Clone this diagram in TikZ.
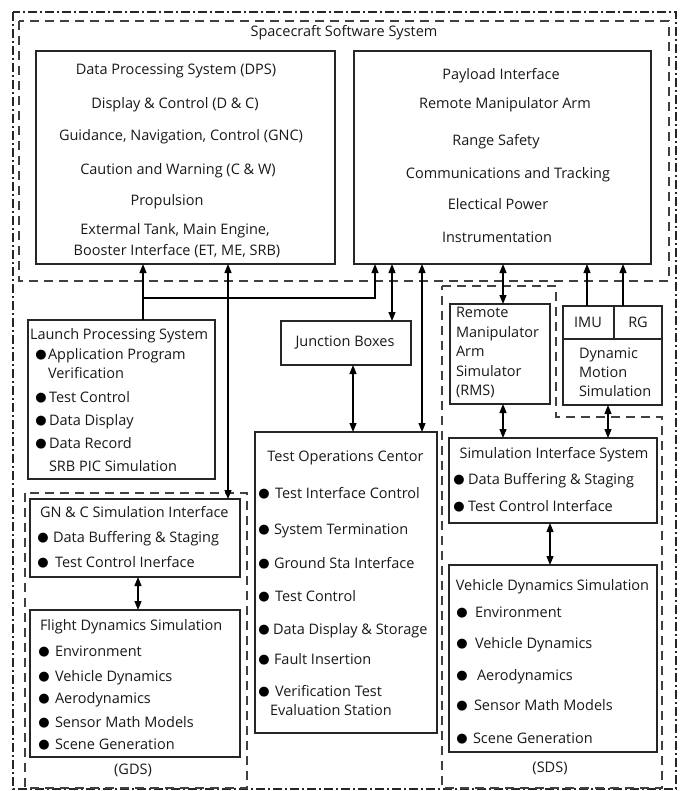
\documentclass[tikz,border=0pt]{standalone}
\usepackage{fontspec}
\setmainfont{Open Sans}
\newfontfamily\symf{DejaVu Sans}
\usetikzlibrary{arrows.meta}
\begin{document}
\begin{tikzpicture}[x=1pt,y=-1pt,
  every node/.style={inner sep=0pt, outer sep=0pt},
  box/.style={draw=black!85, line width=1.3pt, rectangle},
  txt/.style={font=\fontsize{14.5}{16}\selectfont, text=black!90, text height=11pt, text depth=3pt},
  lt/.style={txt, anchor=west},
  bul/.style={font=\symf\fontsize{13}{14}\selectfont, text=black},
  dsh/.style={draw=black!75, line width=1.2pt, dash pattern=on 9pt off 6pt},
  dshdot/.style={draw=black!85, line width=1.3pt, dash pattern=on 9pt off 3pt on 2pt off 3pt},
  arr/.style={draw=black, line width=1.2pt, -{Triangle[length=9pt,width=7pt]}},
  darr/.style={draw=black, line width=1.2pt, {Triangle[length=9pt,width=7pt]}-{Triangle[length=9pt,width=7pt]}},
]
\useasboundingbox (0,0) rectangle (682,791);
\fill[white] (0,0) rectangle (682,791);

% frames
\draw[dshdot] (13,12) rectangle (676,789);
\draw[dsh] (19,21) rectangle (669,281);
\draw[dsh] (25,493) rectangle (247,788);
\draw[dsh] (442,286) -- (556,286) -- (556,417) -- (662,417) -- (662,788) -- (442,788) -- cycle;

\node[txt] (sss) at (344,33) {Spacecraft Software System};

% boxes
\node[box, minimum width=299pt, minimum height=213pt] (dps) at (185.5,157.5) {};
\node[box, minimum width=297pt, minimum height=213pt] (pay) at (502.5,157.5) {};
\node[box, minimum width=187pt, minimum height=159pt] (lps) at (121.5,399.5) {};
\node[box, minimum width=130pt, minimum height=44pt] (jb) at (346,343) {};
\node[box, minimum width=182pt, minimum height=301pt] (toc) at (346,582.5) {};
\node[box, minimum width=210pt, minimum height=78pt] (gnc) at (135,538) {};
\node[box, minimum width=210pt, minimum height=147pt] (fds) at (135,683.5) {};
\node[box, minimum width=100pt, minimum height=100pt] (rms) at (500,354) {};
\node[box, minimum width=99pt, minimum height=99pt] (dms) at (612.5,355.5) {};
\node[box, minimum width=208pt, minimum height=85pt] (sis) at (553,480.5) {};
\node[box, minimum width=208pt, minimum height=187pt] (vds) at (553,658.5) {};

% DMS dividers
\coordinate (ydiv) at (0,339);
\coordinate (xdiv) at (614,0);
\draw[black!85, line width=1.3pt] (dms.west |- ydiv) -- (dms.east |- ydiv);
\draw[black!85, line width=1.3pt] (dms.north -| xdiv) -- (xdiv |- ydiv);

% DPS texts
\node[txt] (d1) at (176,71) {Data Processing System (DPS)};
\node[txt] (d2) at (175,105) {Display \& Control (D \& C)};
\node[txt] (d3) at (181,137) {Guidance, Navigation, Control (GNC)};
\node[txt] (d4) at (178,171) {Caution and Warning (C \& W)};
\node[txt] (d5) at (167,202) {Propulsion};
\node[txt] (d6) at (175,231) {Extermal Tank, Main Engine,};
\node[txt] (d7) at (177,252) {Booster Interface (ET, ME, SRB)};

% Payload texts
\node[txt] (p1) at (501,76) {Payload Interface};
\node[txt] (p2) at (505,105) {Remote Manipulator Arm};
\node[txt] (p3) at (496,142) {Range Safety};
\node[txt] (p4) at (508,175) {Communications and Tracking};
\node[txt] (p5) at (498,206) {Electical Power};
\node[txt] (p6) at (497,239) {Instrumentation};

% LPS texts
\node[lt] (l0) at (30,335) {Launch Processing System};
\node[lt] (l1) at (48,355) {Application Program};
\node[lt] (l2) at (48,374) {Verification};
\node[lt] (l3) at (49,398) {Test Control};
\node[lt] (l4) at (49,421) {Data Display};
\node[lt] (l5) at (49,444) {Data Record};
\node[lt] (l6) at (49,467) {SRB PIC Simulation};
\foreach \n/\y in {lb1/355, lb3/398, lb4/421, lb5/444} \node[bul] (\n) at (41,\y) {●};

% Junction boxes
\node[txt] (jbt) at (345,342) {Junction Boxes};

% TOC texts
\node[txt] (t0) at (345.5,457) {Test Operations Centor};
\node[lt] (t1) at (275,494) {Test Interface Control};
\node[lt] (t2) at (274,530) {System Termination};
\node[lt] (t3) at (274,564) {Ground Sta Interface};
\node[lt] (t4) at (275,597) {Test Control};
\node[lt] (t5) at (273,630) {Data Display \& Storage};
\node[lt] (t6) at (274,660) {Fault Insertion};
\node[lt] (t7) at (275,692) {Verification Test};
\node[lt] (t8) at (270,711) {Evaluation Station};
\foreach \n/\y in {tb1/494, tb2/530, tb3/564, tb4/597, tb5/630, tb6/660, tb7/692} \node[bul] (\n) at (264,\y) {●};

% GN&C texts
\node[lt] (g0) at (40,513) {GN \& C Simulation Interface};
\node[lt] (g1) at (53,538) {Data Buffering \& Staging};
\node[lt] (g2) at (55,563) {Test Control Inerface};
\foreach \n/\y in {gb1/538, gb2/563} \node[bul] (\n) at (43,\y) {●};

% FDS texts
\node[lt] (f0) at (40,626) {Flight Dynamics Simulation};
\node[lt] (f1) at (55,652) {Environment};
\node[lt] (f2) at (55,677) {Vehicle Dynamics};
\node[lt] (f3) at (55,699) {Aerodynamics};
\node[lt] (f4) at (55,723) {Sensor Math Models};
\node[lt] (f5) at (55,745) {Scene Generation};
\foreach \n/\y in {fb1/652, fb2/677, fb3/699, fb4/723, fb5/745} \node[bul] (\n) at (44,\y) {●};
\node[txt] (gds) at (133,770) {(GDS)};

% RMS texts
\node[lt] (r1) at (456,313) {Remote};
\node[lt] (r2) at (456,333) {Manipulator};
\node[lt] (r3) at (456,352) {Arm};
\node[lt] (r4) at (456,372) {Simulator};
\node[lt] (r5) at (456,391) {(RMS)};

% DMS texts
\node[txt] (imu) at (588,323) {IMU};
\node[txt] (rg) at (638,323) {RG};
\node[lt] (m1) at (579,354) {Dynamic};
\node[lt] (m2) at (579,373) {Motion};
\node[lt] (m3) at (579,392) {Simulation};

% SIS texts
\node[txt] (s0) at (554,454) {Simulation Interface System};
\node[lt] (s1) at (468,480) {Data Buffering \& Staging};
\node[lt] (s2) at (468,507) {Test Control Interface};
\foreach \n/\y in {sb1/480, sb2/507} \node[bul] (\n) at (459,\y) {●};

% VDS texts
\node[txt] (v0) at (552.5,586) {Vehicle Dynamics Simulation};
\node[lt] (v1) at (475,613) {Environment};
\node[lt] (v2) at (475,644) {Vehicle Dynamics};
\node[lt] (v3) at (477,676) {Aerodynamics};
\node[lt] (v4) at (474,706) {Sensor Math Models};
\node[lt] (v5) at (473,739) {Scene Generation};
\foreach \n/\y in {vb1/613, vb2/644, vb3/676, vb4/706, vb5/739} \node[bul] (\n) at (462,\y) {●};
\node[txt] (sds) at (550,768) {(SDS)};

% connector x positions
\coordinate (xl) at (143,0);
\coordinate (xd) at (228,0);
\coordinate (xb) at (375,0);
\coordinate (yb) at (0,298);
\coordinate (xj) at (392,0);
\coordinate (xt) at (422,0);
\coordinate (xjt) at (353,0);
\coordinate (xr) at (503,0);
\coordinate (xi) at (587,0);
\coordinate (xg) at (623,0);
\coordinate (xm) at (608,0);
\coordinate (xs) at (550,0);
\coordinate (xf) at (138,0);

% connectors
\draw[arr] (lps.north -| xl) -- (dps.south -| xl);
\draw[arr] (xl |- yb) -- (xb |- yb) -- (pay.south -| xb);
\draw[darr] (dps.south -| xd) -- (gnc.north -| xd);
\draw[darr] (pay.south -| xj) -- (jb.north -| xj);
\draw[darr] (pay.south -| xt) -- (toc.north -| xt);
\draw[darr] (jb.south -| xjt) -- (toc.north -| xjt);
\draw[darr] (pay.south -| xr) -- (rms.north -| xr);
\draw[arr] (dms.north -| xi) -- (pay.south -| xi);
\draw[arr] (dms.north -| xg) -- (pay.south -| xg);
\draw[darr] (rms.south -| xr) -- (sis.north -| xr);
\draw[darr] (dms.south -| xm) -- (sis.north -| xm);
\draw[darr] (sis.south -| xs) -- (vds.north -| xs);
\draw[darr] (gnc.south -| xf) -- (fds.north -| xf);
\end{tikzpicture}
\end{document}
